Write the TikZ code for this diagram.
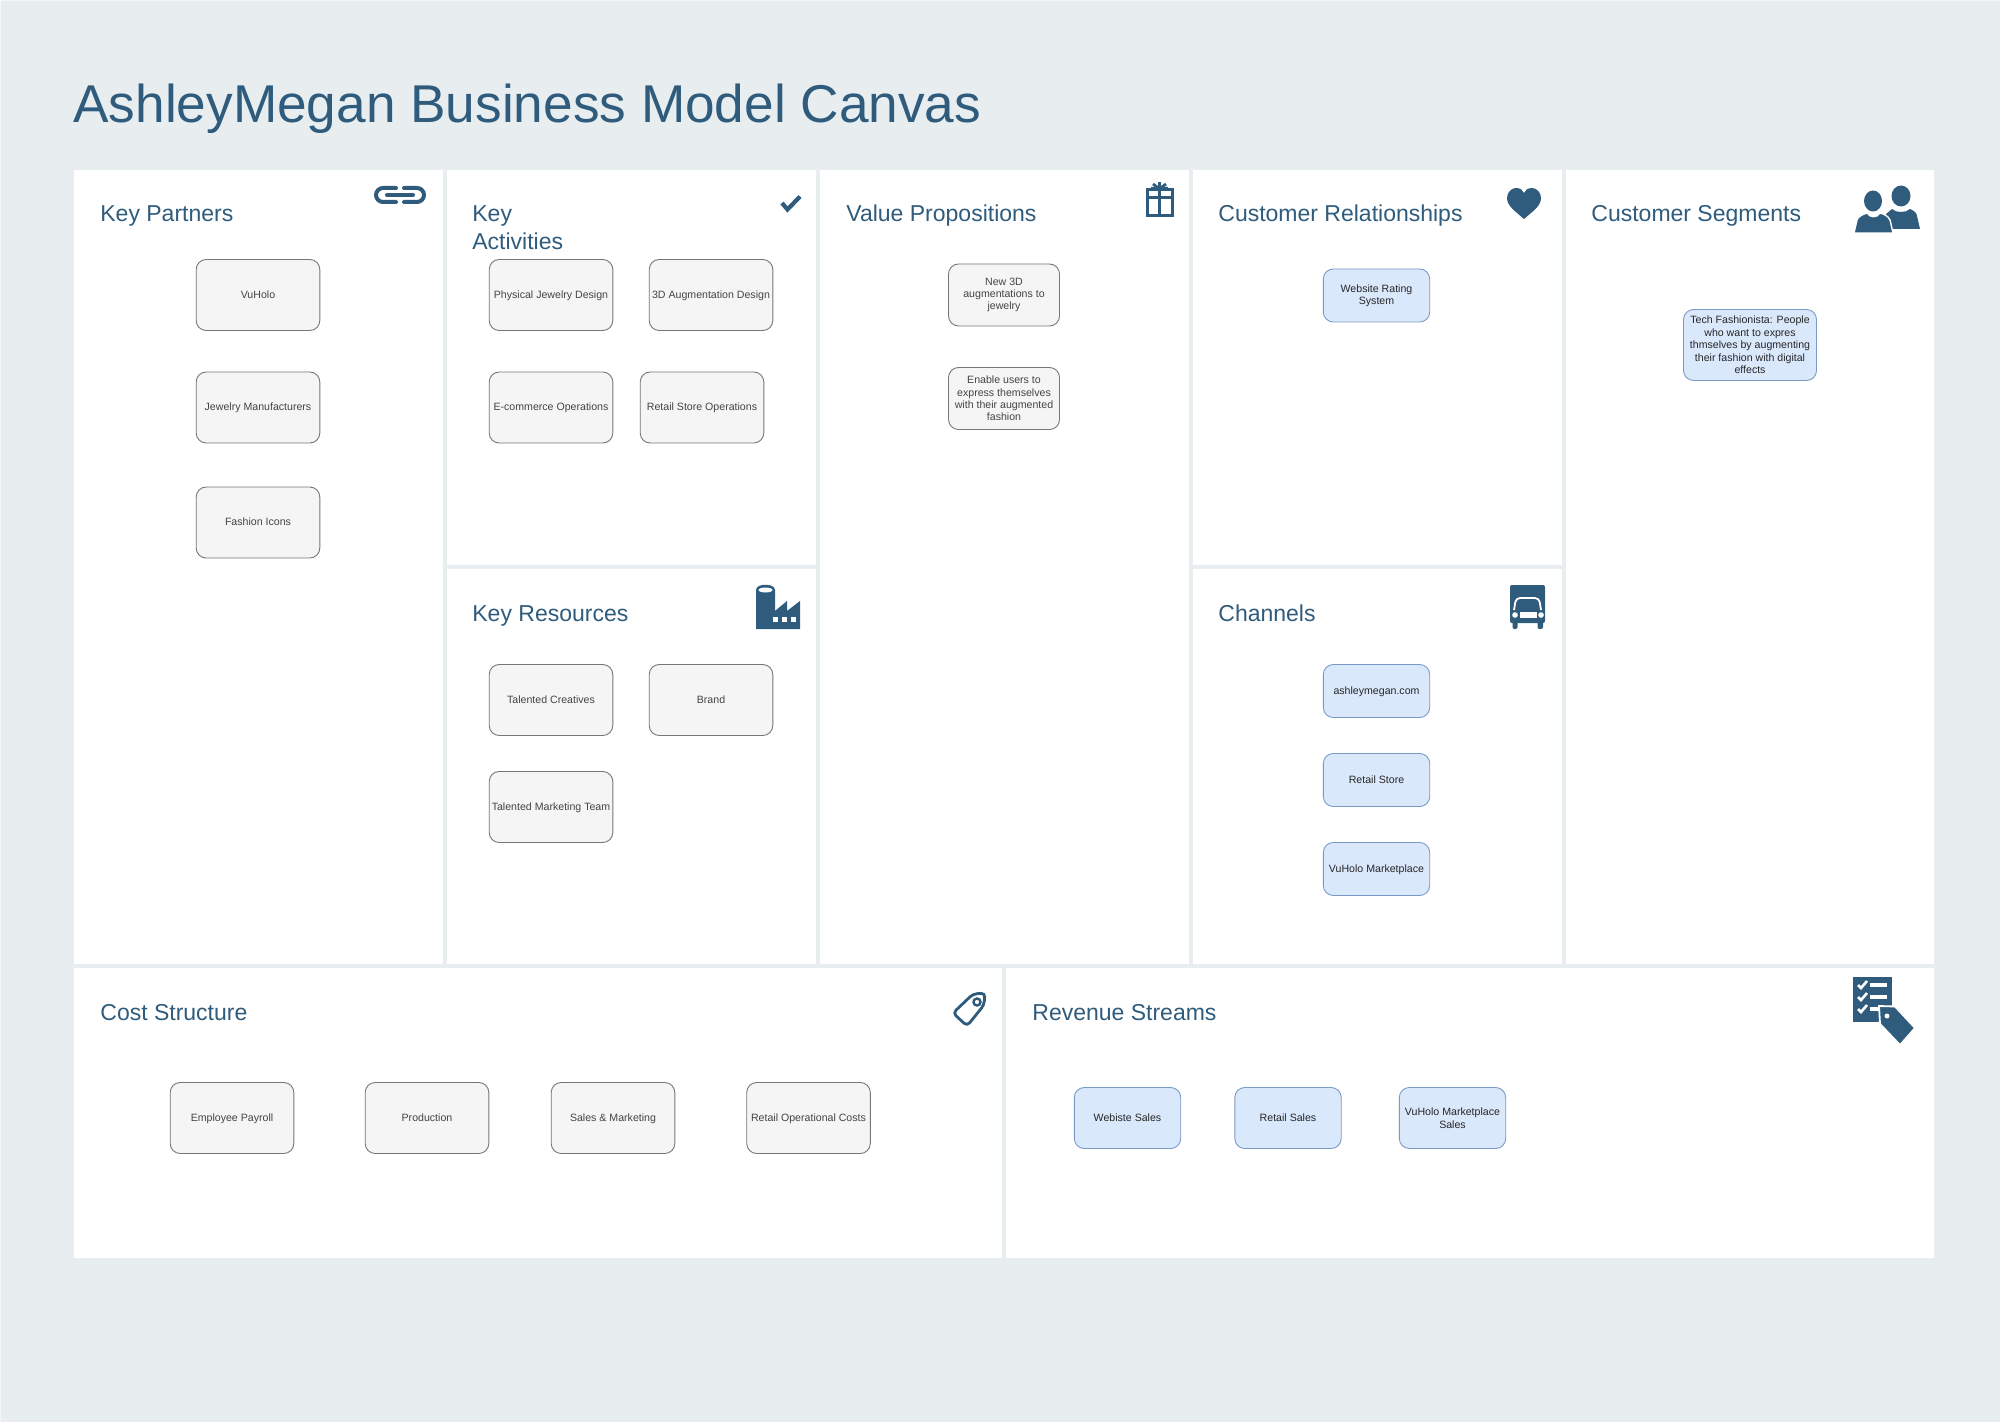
\documentclass[tikz,border=0pt]{standalone}
\usepackage{fontspec}
\setmainfont{Liberation Sans}
\definecolor{pagebg}{HTML}{E8EDF0}
\definecolor{pageedge}{HTML}{F4F6F7}
\definecolor{headblue}{HTML}{2F5B7C}
\definecolor{graybox}{HTML}{F5F5F5}
\definecolor{grayline}{HTML}{777777}
\definecolor{graytext}{HTML}{444444}
\definecolor{bluebox}{HTML}{DAE8FC}
\definecolor{blueline}{HTML}{7B99C6}
\tikzset{
  panel/.style={fill=white},
  maintitle/.style={anchor=base west,inner sep=0,text=headblue,font=\fontsize{26.6}{32}\selectfont},
  heading/.style={anchor=base west,inner sep=0,align=left,text=headblue,font=\fontsize{11.5}{14}\selectfont},
  card/.style={rectangle,rounded corners=5pt,line width=0.45pt,inner sep=0,align=center,font=\fontsize{5.3}{6.2}\selectfont},
  graycard/.style={card,draw=grayline,fill=graybox,text=graytext,minimum width=61.8pt,minimum height=35.5pt},
  bluecard/.style={card,draw=blueline,fill=bluebox,text=black!85,minimum width=53.2pt,minimum height=26.5pt},
  oneline/.style={text height=4.5pt,text depth=1.2pt},
  icon/.style={fill=headblue,draw=none},
  iconline/.style={draw=headblue,fill=none},
}
\begin{document}
\begin{tikzpicture}[x=0.5pt,y=-0.5pt]
\useasboundingbox (0,0) rectangle (2000,1422);
\fill[pagebg] (0,0) rectangle (2000,1422);
\draw[pageedge,line width=0.5pt] (0.5,1422) -- (0.5,0.5) -- (2000,0.5);

\fill[panel] (74,170) rectangle (443,964);
\fill[panel] (447,170) rectangle (816,565);
\fill[panel] (447,569) rectangle (816,964);
\fill[panel] (820,170) rectangle (1189,964);
\fill[panel] (1193,170) rectangle (1562,565);
\fill[panel] (1193,569) rectangle (1562,964);
\fill[panel] (1566,170) rectangle (1934,964);
\fill[panel] (74,968) rectangle (1002,1258);
\fill[panel] (1006,968) rectangle (1934,1258);

\node[maintitle] (title) at (73,122.5) {AshleyMegan Business Model Canvas};

\node[heading] (partners) at (100,222) {Key Partners};
\node[heading,anchor=west] (activities) at (472,228) {Key\\Activities};
\node[heading] (resources) at (472,621) {Key Resources};
\node[heading] (propositions) at (846,222) {Value Propositions};
\node[heading] (relationships) at (1218,222) {Customer Relationships};
\node[heading] (channels) at (1218,621) {Channels};
\node[heading] (segments) at (1591,222) {Customer Segments};
\node[heading] (cost) at (100,1020.5) {Cost Structure};
\node[heading] (revenue) at (1032,1020.5) {Revenue Streams};

\node[graycard,oneline] (vuholo) at (258,295) {VuHolo};
\node[graycard,oneline] (manufacturers) at (258,407.5) {Jewelry Manufacturers};
\node[graycard,oneline] (icons) at (258,522.5) {Fashion Icons};

\node[graycard,oneline] (jewelrydesign) at (551,295) {Physical Jewelry Design};
\node[graycard,oneline] (augdesign) at (711,295) {3D Augmentation Design};
\node[graycard,oneline] (ecommerce) at (551,407.5) {E-commerce Operations};
\node[graycard,oneline] (storeops) at (702,407.5) {Retail Store Operations};

\node[graycard,oneline] (creatives) at (551,700) {Talented Creatives};
\node[graycard,oneline] (brand) at (711,700) {Brand};
\node[graycard,oneline] (marketing) at (551,807) {Talented Marketing Team};

\node[graycard,minimum width=55.5pt,minimum height=31pt] (augmentations) at (1004,295) {New 3D\\augmentations to\\jewelry};
\node[graycard,minimum width=55.5pt,minimum height=31pt] (express) at (1004,398.5) {Enable users to\\express themselves\\with their augmented\\fashion};

\node[bluecard] (rating) at (1376.5,295.5) {Website Rating\\System};
\node[bluecard,oneline] (site) at (1376.5,691) {ashleymegan.com};
\node[bluecard,oneline] (store) at (1376.5,780) {Retail Store};
\node[bluecard,oneline] (market) at (1376.5,869) {VuHolo Marketplace};

\node[bluecard,minimum width=66.5pt,minimum height=35.5pt] (fashionista) at (1750,345) {Tech Fashionista: People\\who want to expres\\thmselves by augmenting\\their fashion with digital\\effects};

\node[graycard,oneline] (payroll) at (232,1118) {Employee Payroll};
\node[graycard,oneline] (production) at (427,1118) {Production};
\node[graycard,oneline] (sales) at (613,1118) {Sales \& Marketing};
\node[graycard,oneline] (retailcost) at (808.5,1118) {Retail Operational Costs};

\node[bluecard,oneline,minimum height=30.5pt] (websales) at (1127.5,1118) {Webiste Sales};
\node[bluecard,oneline,minimum height=30.5pt] (retailsales) at (1288,1118) {Retail Sales};
\node[bluecard,minimum height=30.5pt] (marketsales) at (1452.5,1118) {VuHolo Marketplace\\Sales};

\draw[iconline,line width=2pt,line cap=round] (396,188) -- (383,188) arc (270:90:7) -- (396,202);
\draw[iconline,line width=2pt,line cap=round] (404,188) -- (417,188) arc (-90:90:7) -- (404,202);
\draw[iconline,line width=2pt,line cap=round] (387,195) -- (413,195);

\draw[iconline,line width=2.1pt] (782,203) -- (787.5,209.5) -- (800,196.5);

\draw[iconline,line width=1.5pt] (1147,190) rectangle (1172,216);
\draw[iconline,line width=1.5pt] (1147,197.5) -- (1172,197.5);
\draw[iconline,line width=1.5pt] (1159.5,190) -- (1159.5,216);
\draw[iconline,line width=1.4pt] (1159.5,189) -- (1159.5,182);
\draw[iconline,line width=1.4pt] (1159.5,189) -- (1153,184);
\draw[iconline,line width=1.4pt] (1159.5,189) -- (1166,184);
\draw[iconline,line width=1.2pt] (1159.5,189) -- (1151,188);
\draw[iconline,line width=1.2pt] (1159.5,189) -- (1168,188);

\fill[icon] (1524,219) .. controls (1515,211) and (1507,206) .. (1507,198) .. controls (1507,192) and (1512,188) .. (1516,188) .. controls (1520,188) and (1523,190) .. (1524,193) .. controls (1525,190) and (1528,188) .. (1532,188) .. controls (1536,188) and (1541,192) .. (1541,198) .. controls (1541,206) and (1533,211) .. (1524,219) -- cycle;

\fill[icon] (756,590) .. controls (756,583) and (775,583) .. (775,590) -- (775,611) -- (787,601) -- (787,611) -- (800,601) -- (800,629) -- (756,629) -- cycle;
\fill[white] (765.5,590) circle [x radius=7, y radius=2.5];
\fill[white] (773,617) rectangle (778,622);
\fill[white] (781.5,617) rectangle (786.5,622);
\fill[white] (790.5,617) rectangle (795.5,622);

\fill[icon,rounded corners=1pt] (1510,585) rectangle (1545,623);
\fill[icon,rounded corners=1pt] (1512.5,620) rectangle (1517.5,629);
\fill[icon,rounded corners=1pt] (1537.5,620) rectangle (1543,629);
\draw[white,line width=0.9pt,rounded corners=2pt] (1514,610) -- (1516,598) -- (1539,598) -- (1541,610);
\fill[white] (1520,612) rectangle (1537,618);
\fill[white] (1515,615) circle [radius=2.8];
\fill[white] (1541,615) circle [radius=2.8];

\fill[icon] (1901,196) circle [x radius=9.5, y radius=10.5];
\fill[icon] (1886,214) -- (1892,209) .. controls (1896,213) and (1906,213) .. (1910,209) .. controls (1915,211) and (1917,214) .. (1917,216) -- (1920,229) -- (1890,229) -- cycle;
\fill[icon] (1873,201) circle [x radius=9, y radius=10.5];
\filldraw[fill=headblue,draw=white,line width=0.7pt] (1854,233) -- (1857,220) .. controls (1858,216) and (1864,214) .. (1867,213) .. controls (1870,218) and (1877,218) .. (1880,213) .. controls (1884,214) and (1888,216) .. (1890,220) -- (1893,233) -- cycle;

\fill[icon] (1853,977) rectangle (1892,1022);
\draw[white,line width=1.3pt] (1858,985) -- (1861,988) -- (1867,981);
\draw[white,line width=1.3pt] (1858,997) -- (1861,1000) -- (1867,993);
\draw[white,line width=1.3pt] (1858,1009) -- (1861,1012) -- (1867,1005);
\draw[white,line width=1.6pt] (1870,985) -- (1887,985);
\draw[white,line width=1.6pt] (1870,997) -- (1887,997);
\draw[white,line width=1.6pt] (1870,1009) -- (1880,1009);
\filldraw[fill=headblue,draw=white,line width=0.9pt] (1879,1006) -- (1895,1006.5) -- (1915,1028) -- (1900,1045) -- (1880,1024) -- cycle;
\fill[white] (1887,1016) circle [radius=2.5];

\draw[iconline,line width=1.4pt,rounded corners=2pt] (973,994) -- (985,993) -- (984,1005) -- (967,1026) -- (953,1013) -- cycle;
\draw[iconline,line width=1.2pt] (977,1002) circle [radius=3.5];
\end{tikzpicture}
\end{document}
